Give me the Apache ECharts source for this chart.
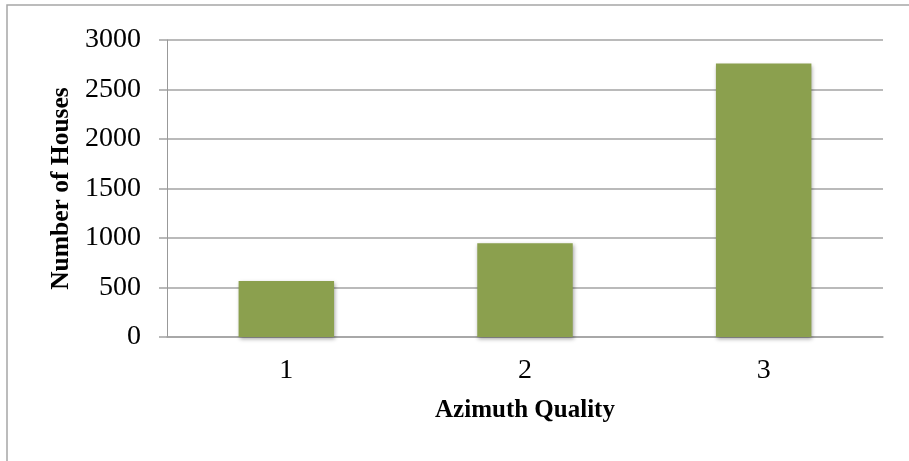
<!DOCTYPE html>
<html>
<head>
<meta charset="utf-8">
<script src="https://cdn.jsdelivr.net/npm/echarts@6/dist/echarts.min.js"></script>
<style>
  html, body { margin: 0; padding: 0; background: #ffffff; }
  #chart { width: 909px; height: 461px; }
</style>
</head>
<body>
<div id="chart"></div>
<script>
// Houses counted per azimuth quality class
const categories = ['1', '2', '3'];
const houseCounts = [566, 946, 2762];
const yTicks = { min: 0, max: 3000, interval: 500 };

const xAxisTitle = 'Azimuth Quality';
const yAxisTitle = 'Number of Houses';

const chart = echarts.init(document.getElementById('chart'));

const gridColor = '#a3a3a3';
const serif = '"Liberation Serif", "DejaVu Serif", serif';

chart.setOption({
  animation: false,
  backgroundColor: '#ffffff',
  graphic: [{
    type: 'rect',
    silent: true,
    shape: { x: 7, y: 5, width: 1000, height: 1000 },
    style: { fill: 'none', stroke: '#a6a6a6', lineWidth: 1.5 }
  }],
  grid: { left: 167, right: 26, top: 40, bottom: 124 },
  xAxis: {
    type: 'category',
    data: categories,
    name: xAxisTitle,
    nameLocation: 'middle',
    nameGap: 61,
    nameTextStyle: { fontFamily: serif, fontWeight: 'bold', fontSize: 25, color: '#000' },
    axisLine: { show: true, lineStyle: { color: gridColor, width: 1.5 } },
    axisTick: { show: false },
    axisLabel: { margin: 20, fontFamily: serif, fontSize: 28, color: '#000' },
    splitLine: { show: false }
  },
  yAxis: {
    type: 'value',
    min: yTicks.min,
    max: yTicks.max,
    interval: yTicks.interval,
    name: yAxisTitle,
    nameLocation: 'middle',
    nameRotate: 90,
    nameGap: 86,
    nameTextStyle: { fontFamily: serif, fontWeight: 'bold', fontSize: 25.5, color: '#000' },
    axisLine: { show: true, lineStyle: { color: '#999', width: 1 } },
    axisTick: { show: true, length: 8, lineStyle: { color: gridColor, width: 1.5 } },
    axisLabel: {
      margin: 26, fontFamily: serif, fontSize: 28, color: '#000',
      formatter: function (v) { return String(v); }
    },
    splitLine: { show: true, lineStyle: { color: gridColor, width: 1.5 } }
  },
  series: [{
    type: 'bar',
    data: houseCounts,
    barCategoryGap: '60%',
    itemStyle: {
      color: '#8ba04e',
      shadowColor: 'rgba(0,0,0,0.35)',
      shadowBlur: 4,
      shadowOffsetX: 1,
      shadowOffsetY: 2
    }
  }]
});
</script>
</body>
</html>
